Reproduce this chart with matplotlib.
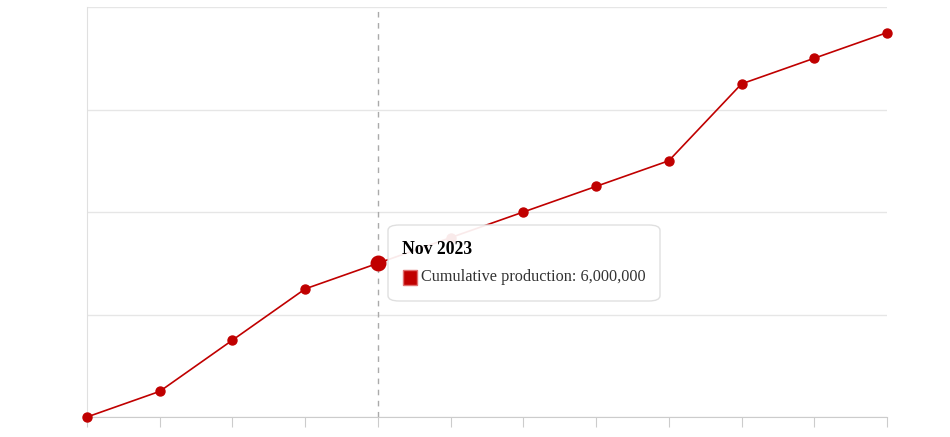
import matplotlib.pyplot as plt
from matplotlib.patches import FancyBboxPatch, Rectangle

# data (cumulative production per month)
months = ["Jul 2023", "Aug 2023", "Sep 2023", "Oct 2023", "Nov 2023", "Dec 2023",
          "Jan 2024", "Feb 2024", "Mar 2024", "Apr 2024", "May 2024", "Jun 2024"]
production = [0, 1000000, 3000000, 5000000, 6000000, 7000000,
              8000000, 9000000, 10000000, 13000000, 14000000, 15000000]
y_ticks = [0, 4000000, 8000000, 12000000, 16000000]
hover_idx = 4

red = "#c00000"

fig = plt.figure(figsize=(9.5, 4.37), dpi=100)
ax = fig.add_axes([87 / 950, 20 / 437, 800 / 950, 410 / 437])

x = list(range(len(months)))
ax.plot(x, production, color=red, linewidth=1.2, zorder=3)
ax.scatter(x, production, color=red, s=42, zorder=4, clip_on=False)
ax.scatter([hover_idx], [production[hover_idx]], color=red, s=110, zorder=5, clip_on=False)

ax.set_xlim(0, len(months) - 1)
ax.set_ylim(0, 16000000)
ax.set_yticks(y_ticks)
ax.set_xticks(x)
ax.set_xticklabels([])
ax.set_yticklabels([])
ax.grid(axis="y", color="#e6e6e6", linewidth=1)
ax.set_axisbelow(True)
ax.tick_params(axis="x", length=7, color="#cccccc")
ax.tick_params(axis="y", length=0)
for side in ["top", "right"]:
    ax.spines[side].set_visible(False)
ax.spines["left"].set_color("#e0e0e0")
ax.spines["bottom"].set_color("#cccccc")

# hover crosshair
ax.axvline(hover_idx, color="#aaaaaa", linestyle=(0, (4, 4)), linewidth=1, zorder=2)

# tooltip
W, H = 950, 437
box = FancyBboxPatch((388 / W, 1 - 301 / H), 272 / W, 76 / H,
                     boxstyle="round,pad=0,rounding_size=0.012",
                     transform=fig.transFigure, facecolor="white", alpha=0.92,
                     edgecolor="#dddddd", linewidth=1, zorder=10)
fig.patches.append(box)
fig.text(402 / W, 1 - 249 / H, months[hover_idx], fontsize=12.7, fontweight="bold",
         family="Liberation Serif", va="center", ha="left", zorder=11)
fig.patches.append(Rectangle((403 / W, 1 - 285 / H), 14 / W, 15 / H, transform=fig.transFigure,
                             facecolor=red, edgecolor="#e07070", linewidth=1, zorder=11))
fig.text(421 / W, 1 - 277 / H, "Cumulative production: " + f"{production[hover_idx]:,}",
         fontsize=11.7, family="Liberation Serif", va="center", ha="left", color="#333333", zorder=11)

fig.savefig("out.png", dpi=100)
